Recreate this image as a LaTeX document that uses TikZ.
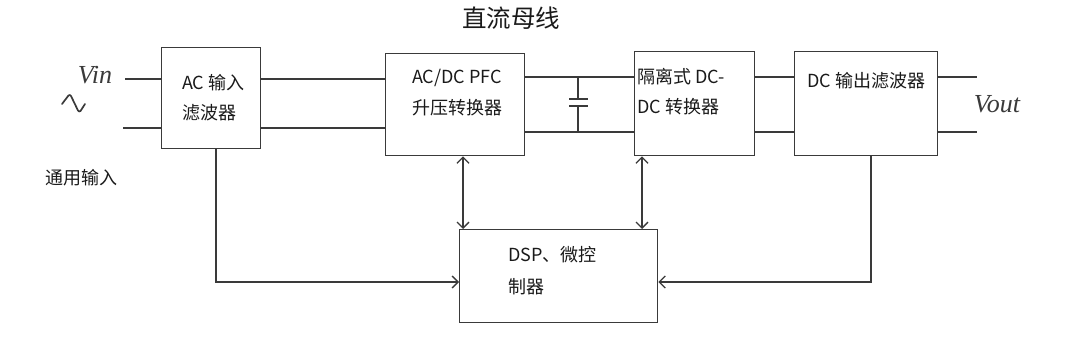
\documentclass[tikz,border=0pt]{standalone}
\usepackage{fontspec}
\setmainfont{Noto Sans CJK SC}
\newfontfamily\serifit{Liberation Serif}
\usetikzlibrary{arrows.meta}
\definecolor{ln}{HTML}{3A3A3A}
\definecolor{tx}{HTML}{1A1A1A}
\begin{document}
\begin{tikzpicture}[x=1pt,y=-1pt,
  box/.style={draw=ln, fill=white, line width=1.4pt, anchor=north west, inner sep=0pt},
  wire/.style={draw=ln, line width=1.4pt},
  arr/.style={wire, -{Straight Barb[length=6pt,width=12pt,line width=1.3pt]}},
  darr/.style={wire, {Straight Barb[length=6pt,width=12pt,line width=1.3pt]}-{Straight Barb[length=6pt,width=12pt,line width=1.3pt]}},
  lbl/.style={anchor=west, inner sep=0pt, text=tx, font=\fontsize{18}{21}\selectfont},
  vlab/.style={inner sep=0pt, text=ln, font=\serifit\itshape\fontsize{26}{29}\selectfont}]
\useasboundingbox (0,0) rectangle (1080,342);
% boxes
\node[box, minimum width=99pt, minimum height=101pt] (filt) at (161,47) {};
\node[box, minimum width=139pt, minimum height=102pt] (pfc) at (385,53) {};
\node[box, minimum width=120pt, minimum height=104pt] (dcdc) at (634,51) {};
\node[box, minimum width=143pt, minimum height=104pt] (outf) at (794,51) {};
\node[box, minimum width=198pt, minimum height=93pt] (dsp) at (459,229) {};
% y levels
\coordinate (yA) at (0,79);
\coordinate (yB) at (0,128);
\coordinate (yC) at (0,77);
\coordinate (yD) at (0,132);
\coordinate (yF) at (0,282);
\coordinate (vin1) at (125,79);
\coordinate (vin2) at (123,128);
\coordinate (out1) at (977,77);
\coordinate (out2) at (977,132);
\coordinate (capx) at (578,0);
\coordinate (a1) at (463,0);
\coordinate (a2) at (642,0);
\coordinate (fb1) at (216,0);
\coordinate (fb2) at (871,0);
% wires
\draw[wire] (vin1) -- (vin1 -| filt.west);
\draw[wire] (vin2) -- (vin2 -| filt.west);
\draw[wire] (filt.east |- yA) -- (pfc.west |- yA);
\draw[wire] (filt.east |- yB) -- (pfc.west |- yB);
\draw[wire] (pfc.east |- yC) -- (dcdc.west |- yC);
\draw[wire] (pfc.east |- yD) -- (dcdc.west |- yD);
\draw[wire] (dcdc.east |- yC) -- (outf.west |- yC);
\draw[wire] (dcdc.east |- yD) -- (outf.west |- yD);
\draw[wire] (outf.east |- out1) -- (out1);
\draw[wire] (outf.east |- out2) -- (out2);
% capacitor
\coordinate (capt) at (578,99);
\coordinate (capb) at (578,106);
\draw[wire] (capx |- yC) -- (capt);
\draw[wire] (capb) -- (capx |- yD);
\draw[wire] ([xshift=-9pt]capt) -- ([xshift=10pt]capt);
\draw[wire] ([xshift=-9pt]capb) -- ([xshift=10pt]capb);
% control arrows
\draw[darr] (a1 |- pfc.south) -- (a1 |- dsp.north);
\draw[darr] (a2 |- dcdc.south) -- (a2 |- dsp.north);
\draw[arr] (fb1 |- filt.south) -- (fb1 |- yF) -- (dsp.west |- yF);
\draw[arr] (fb2 |- outf.south) -- (fb2 |- yF) -- (dsp.east |- yF);
% AC symbol
\draw[wire, line width=1.7pt, line join=round, line cap=round]
  (62,104) -- (68.5,95.5) .. controls (69.5,94.5) and (70.5,95) .. (71,96)
  -- (78,110.5) .. controls (78.5,111.5) and (79.5,112) .. (80.5,111)
  -- (85,104);
% texts
\node[inner sep=0pt, text=tx, font=\fontsize{24.5}{28}\selectfont] (title) at (511,18) {直流母线};
\node[lbl] (t1) at (182,83) {AC 输入};
\node[lbl] (t2) at (182,113) {滤波器};
\node[lbl] (t3) at (412,78) {AC/DC PFC};
\node[lbl] (t4) at (412,108) {升压转换器};
\node[lbl] (t5) at (637,77) {隔离式 DC-};
\node[lbl] (t6) at (637,107) {DC 转换器};
\node[lbl] (t7) at (807,81) {DC 输出滤波器};
\node[lbl] (t8) at (508,255) {DSP、微控};
\node[lbl] (t9) at (508,287) {制器};
\node[lbl] (t10) at (45,178) {通用输入};
\node[vlab] (vin) at (95,75) {Vin};
\node[vlab] (vout) at (997,104) {Vout};
\end{tikzpicture}
\end{document}
